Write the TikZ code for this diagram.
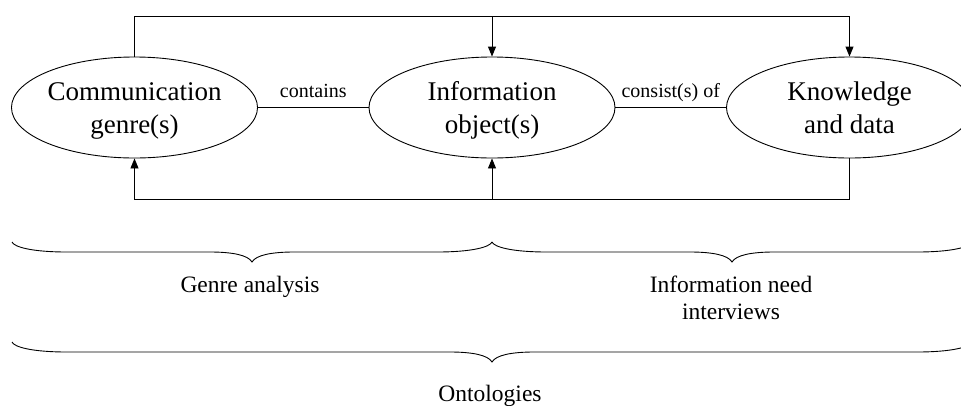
\documentclass[tikz,border=0pt]{standalone}
\usepackage{fontspec}
\setmainfont{Liberation Serif}
\usetikzlibrary{shapes.geometric,arrows.meta,calc}

% flat curly brace opening upwards: x-start, x-end, y of the ends, x of the tip
\newcommand{\flatbrace}[4]{%
  \draw[braceline] (#1,#3)
    .. controls ({#1+2},{#3+5}) and ({#1+20},{#3+10}) .. ({#1+55},{#3+10})
    -- ({#4-42},{#3+10})
    .. controls ({#4-20},{#3+10}) and ({#4-4},{#3+13}) .. (#4,{#3+20})
    .. controls ({#4+4},{#3+13}) and ({#4+20},{#3+10}) .. ({#4+42},{#3+10})
    -- ({#2-55},{#3+10})
    .. controls ({#2-20},{#3+10}) and ({#2-2},{#3+5}) .. (#2,#3);}

\tikzset{
  ell/.style={draw, ellipse, inner sep=0pt, minimum width=246pt,
    minimum height=101pt, align=center, line width=0.9pt,
    text height=57pt, text depth=6pt,
    font=\fontsize{27}{33}\selectfont},
  rel/.style={font=\fontsize{20}{24}\selectfont, anchor=base, inner sep=0pt},
  phase/.style={font=\fontsize{23.5}{27}\selectfont, anchor=base,
    align=center, inner sep=0pt},
  link/.style={line width=0.9pt},
  arr/.style={line width=0.9pt, -{Triangle[length=10pt,width=8pt]}},
  braceline/.style={line width=0.9pt},
}

\begin{document}
\begin{tikzpicture}[x=1pt,y=-1pt]
  \clip (0,0) rectangle (961,405);

  % the three entities
  \node[ell] (cg) at (134.5,107.5) {Communication\\genre(s)};
  \node[ell] (io) at (492,107.5) {Information\\object(s)};
  \node[ell] (kd) at (849.5,107.5) {Knowledge\\and data};

  % relations between neighbours
  \draw[link] (cg.east) -- node[rel, yshift=10pt] (lc) {contains} (io.west);
  \draw[link] (io.east) -- node[rel, yshift=10pt] (lk) {consist(s) of} (kd.west);

  % feedback loops above and below
  \coordinate (top) at (0,16);
  \coordinate (bot) at (0,199);
  \draw[arr] (cg.north) -- (cg.north |- top) -- (kd.north |- top) -- (kd.north);
  \draw[arr] (io.north |- top) -- (io.north);
  \draw[arr] (kd.south) -- (kd.south |- bot) -- (cg.south |- bot) -- (cg.south);
  \draw[arr] (io.south |- bot) -- (io.south);

  % method braces
  \flatbrace{12}{492}{242}{252}
  \flatbrace{492}{972}{242}{732}
  \flatbrace{12}{972}{342}{492}

  \node[phase] (ga) at (250,292) {Genre analysis};
  \node[phase] (ni) at (731,319) {Information need\\interviews};
  \node[phase] (on) at (490,401) {Ontologies};
\end{tikzpicture}
\end{document}
